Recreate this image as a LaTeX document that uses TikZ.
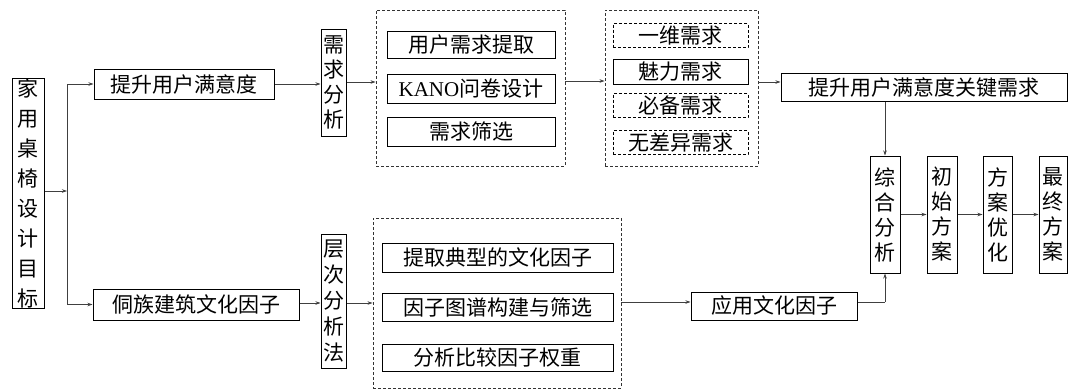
\documentclass[tikz,border=0pt]{standalone}
\usepackage{fontspec}
\setmainfont{Liberation Serif}
\newfontfamily\cjk{Noto Sans CJK SC}
\usetikzlibrary{arrows.meta}
\tikzset{
  box/.style={draw=black, line width=1pt, inner sep=0pt, font=\cjk\fontsize{21}{25}\selectfont, align=center},
  dbox/.style={box, dash pattern=on 3pt off 2pt},
  frame/.style={draw=black!80, line width=0.9pt, dash pattern=on 3pt off 2pt},
  arr/.style={draw=black!75, line width=0.7pt, -{Stealth[length=5pt,width=3.5pt]}},
  ln/.style={draw=black!75, line width=0.7pt},
}
\begin{document}
\begin{tikzpicture}[x=1pt,y=-1pt]
\useasboundingbox (0,0) rectangle (1068,389);
% left
\node[box, minimum width=32, minimum height=211, font=\cjk\fontsize{21}{30}\selectfont] (goal) at (28,193.5) {家\\用\\桌\\椅\\设\\计\\目\\标};
\coordinate (j) at (67,191);
\node[box, minimum width=180, minimum height=30] (sat) at (184,84) {提升用户满意度};
\node[box, minimum width=206, minimum height=31] (dong) at (196,304.5) {侗族建筑文化因子};
\node[box, minimum width=25, minimum height=107] (xq) at (333.5,82.5) {需\\求\\分\\析};
\node[box, minimum width=25, minimum height=134, font=\cjk\fontsize{21}{26}\selectfont] (cc) at (333.5,301) {层\\次\\分\\析\\法};
% dashed group 1
\node[frame, minimum width=189, minimum height=156] (D1) at (470.5,88) {};
\node[box, minimum width=168, minimum height=27] (a1) at (471,45) {用户需求提取};
\node[box, minimum width=168, minimum height=29] (a2) at (471,88.5) {{\rmfamily KANO}问卷设计};
\node[box, minimum width=168, minimum height=29] (a3) at (471,131.5) {需求筛选};
% dashed group 2
\node[frame, minimum width=153, minimum height=156] (D2) at (681.5,88) {};
\node[dbox, minimum width=135, minimum height=24] (b1) at (680.5,35.5) {一维需求};
\node[box, minimum width=135, minimum height=25] (b2) at (680.5,71.5) {魅力需求};
\node[dbox, minimum width=135, minimum height=24] (b3) at (680.5,105.5) {必备需求};
\node[dbox, minimum width=135, minimum height=24] (b4) at (680.5,142.5) {无差异需求};
\node[box, minimum width=286, minimum height=28] (key) at (924,87) {提升用户满意度关键需求};
% dashed group 3
\node[frame, minimum width=248, minimum height=170] (D3) at (497,303) {};
\node[box, minimum width=231, minimum height=29] (c1) at (497.5,257.5) {提取典型的文化因子};
\node[box, minimum width=231, minimum height=28] (c2) at (497.5,307.5) {因子图谱构建与筛选};
\node[box, minimum width=231, minimum height=27] (c3) at (497.5,358) {分析比较因子权重};
\node[box, minimum width=166, minimum height=28] (yy) at (774,306) {应用文化因子};
% right column
\node[box, minimum width=30, minimum height=117] (zh) at (885,214.5) {综\\合\\分\\析};
\node[box, minimum width=30, minimum height=117] (cs) at (942,214.5) {初\\始\\方\\案};
\node[box, minimum width=29, minimum height=117] (yh) at (997.5,214.5) {方\\案\\优\\化};
\node[box, minimum width=28, minimum height=117] (zj) at (1053,214.5) {最\\终\\方\\案};
% connectors
\draw[arr] (goal.east |- j) -- (j);
\draw[ln] (j |- sat) -- (j |- dong);
\draw[arr] (j |- sat) -- (sat.west);
\draw[arr] (j |- dong) -- (dong.west);
\draw[arr] (sat.east) -- (sat.east -| xq.west);
\draw[arr] (xq.east |- 0,82) -- (D1.west |- 0,82);
\draw[arr] (D1.east |- 0,81) -- (D2.west |- 0,81);
\draw[arr] (D2.east |- 0,82) -- (key.west |- 0,82);
\draw[arr] (zh.north |- key.south) -- (zh.north);
\draw[arr] (dong.east |- 0,303) -- (cc.west |- 0,303);
\draw[arr] (cc.east |- 0,303) -- (D3.west |- 0,303);
\draw[arr] (D3.east |- 0,302) -- (yy.west |- 0,302);
\draw[ln] (yy.east |- 0,302) -- (zh.south |- 0,302);
\draw[arr] (zh.south |- 0,302) -- (zh.south);
\draw[arr] (zh.east) -- (cs.west);
\draw[arr] (cs.east) -- (yh.west);
\draw[arr] (yh.east) -- (zj.west);
\end{tikzpicture}
\end{document}
